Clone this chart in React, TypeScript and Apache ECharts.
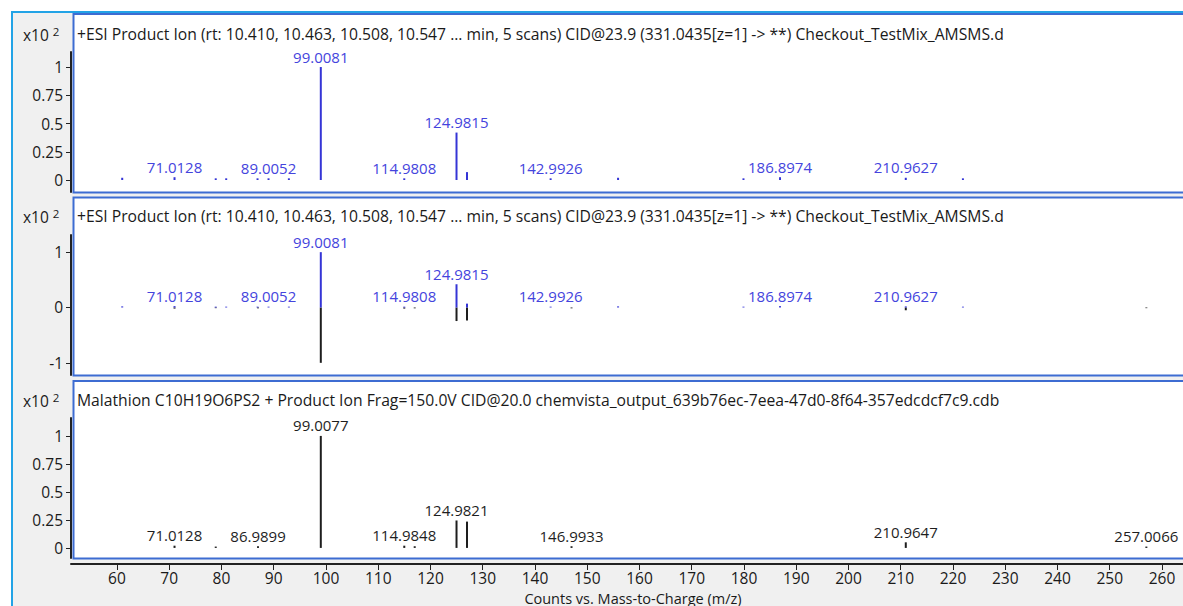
import React, { useEffect, useRef } from "react";
import * as echarts from "echarts";

// Acquired spectrum (blue)
const sampleMz = [61.0, 71.0128, 78.9, 80.9, 86.9, 89.0052, 92.9, 99.0081, 114.9808, 124.9815, 126.99, 142.9926, 155.9, 179.9, 186.8974, 210.9627, 221.9];
const sampleInt = [0.02, 0.025, 0.015, 0.015, 0.015, 0.015, 0.015, 1.0, 0.015, 0.42, 0.07, 0.015, 0.02, 0.015, 0.025, 0.02, 0.015];
const sampleLabeled = [0, 1, 0, 0, 0, 1, 0, 1, 1, 1, 0, 1, 0, 0, 1, 1, 0];

// Library spectrum (black)
const libMz = [71.0128, 78.9, 86.9899, 99.0077, 114.9848, 116.98, 124.9821, 126.99, 146.9933, 210.9647, 257.0066];
const libInt = [0.02, 0.012, 0.015, 1.0, 0.02, 0.015, 0.245, 0.235, 0.015, 0.05, 0.012];
const libLabeled = [1, 0, 1, 1, 1, 0, 1, 0, 1, 1, 1];

const xTicks = [60, 70, 80, 90, 100, 110, 120, 130, 140, 150, 160, 170, 180, 190, 200, 210, 220, 230, 240, 250, 260];
const yTicksPos = [0, 0.25, 0.5, 0.75, 1];
const yTicksMirror = [-1, 0, 1];

const title1 = "+ESI Product Ion (rt: 10.410, 10.463, 10.508, 10.547 ... min, 5 scans) CID@23.9 (331.0435[z=1] -> **) Checkout_TestMix_AMSMS.d";
const title3 = "Malathion C10H19O6PS2 + Product Ion Frag=150.0V CID@20.0 chemvista_output_639b76ec-7eea-47d0-8f64-357edcdcf7c9.cdb";
const xTitle = "Counts vs. Mass-to-Charge (m/z)";

const FONT = '"Open Sans", "Liberation Sans", Arial, sans-serif';
const FS_TITLE = 15.7;
const FS_TICK = 15.5;
const FS_PEAK = 15;
const BLUE = "#3535d6";
const BLUE_LABEL = "#4444dd";
const BLACK = "#1e1e1e";

const X_MIN = 51.2;
const X_MAX = 264.02;

function buildData(mz: number[], inten: number[], lab: number[], sign: number) {
  return mz.map((m, i) => [m, sign * inten[i], lab[i]]);
}

function stickSeries(data: any[], color: string, labelColor: string, idx: number) {
  return {
    type: "custom",
    xAxisIndex: idx,
    yAxisIndex: idx,
    data,
    encode: { x: 0, y: 1 },
    z: 5,
    renderItem: (params: any, api: any) => {
      const x = api.value(0);
      const y = api.value(1);
      const lab = api.value(2);
      const p0 = api.coord([x, 0]);
      const p1 = api.coord([x, y]);
      const children: any[] = [
        {
          type: "line",
          shape: { x1: p0[0], y1: p0[1], x2: p1[0], y2: p1[1] },
          style: { stroke: color, lineWidth: 2, lineCap: "butt" },
        },
      ];
      if (lab) {
        children.push({
          type: "text",
          x: p1[0],
          y: p1[1] - 10.5,
          style: {
            text: x.toFixed(4),
            fill: labelColor,
            font: `${FS_PEAK}px ${FONT}`,
            align: "center",
            verticalAlign: "middle",
          },
        });
      }
      return { type: "group", children };
    },
  };
}

function yAxis(idx: number, min: number, max: number, ticks: number[]) {
  return {
    type: "value",
    gridIndex: idx,
    min,
    max,
    splitLine: { show: false },
    axisLine: { show: true, lineStyle: { color: "#222", width: 2 } },
    axisTick: { show: true, length: 5, customValues: ticks, lineStyle: { color: "#222", width: 1 } },
    axisLabel: { customValues: ticks, color: "#1a1a1a", fontSize: FS_TICK, fontFamily: FONT, margin: 8 },
  };
}

function xAxis(idx: number, show: boolean) {
  return {
    type: "value",
    gridIndex: idx,
    min: X_MIN,
    max: X_MAX,
    show,
    offset: 6,
    splitLine: { show: false },
    axisLine: { show: true, onZero: false, lineStyle: { color: "#222", width: 2 } },
    axisTick: { show: true, length: 6, customValues: xTicks, lineStyle: { color: "#222", width: 1 } },
    axisLabel: { customValues: xTicks, color: "#1a1a1a", fontSize: FS_TICK, fontFamily: FONT, margin: 6, lineHeight: 15 },
  };
}

function panelRect(y: number, h: number) {
  return {
    type: "rect",
    z: -1,
    shape: { x: 73.5, y, width: 1200, height: h },
    style: { fill: "#ffffff", stroke: "#3d6cd2", lineWidth: 2 },
  };
}

function exponent(y: number) {
  return {
    type: "text",
    z: 10,
    x: 23,
    y,
    style: {
      text: "{a|x10}{b|2}",
      rich: {
        a: { font: `${FS_TICK}px ${FONT}`, fill: "#1a1a1a", verticalAlign: "bottom" },
        b: { font: `11.5px ${FONT}`, fill: "#1a1a1a", padding: [0, 0, 6, 4], verticalAlign: "bottom" },
      },
      verticalAlign: "middle",
    },
  };
}

function titleText(text: string, y: number) {
  return {
    type: "text",
    z: 10,
    x: 77,
    y,
    style: { text, font: `${FS_TITLE}px ${FONT}`, fill: "#1a1a1a", verticalAlign: "middle" },
  };
}

export default function App() {
  const ref = useRef<HTMLDivElement>(null);
  useEffect(() => {
    if (!ref.current) return;
    const chart = echarts.init(ref.current, null, { renderer: "svg" });
    chart.setOption({
      animation: false,
      backgroundColor: "#ffffff",
      grid: [
        { left: 71, top: 52, height: 140, right: 0 },
        { left: 71, top: 235, height: 140, right: 0 },
        { left: 71, top: 418, height: 140, right: 0 },
      ],
      xAxis: [xAxis(0, false), xAxis(1, false), xAxis(2, true)],
      yAxis: [
        yAxis(0, -0.106, 1.133, yTicksPos),
        yAxis(1, -1.22, 1.31, yTicksMirror),
        yAxis(2, -0.09, 1.16, yTicksPos),
      ],
      graphic: [
        {
          type: "rect",
          z: -2,
          shape: { x: 12, y: 12, width: 1200, height: 620 },
          style: { fill: "#f0f0f0", stroke: "#22a3e6", lineWidth: 2 },
        },
        panelRect(14, 178.5),
        panelRect(197.5, 178),
        panelRect(381, 177.5),
        exponent(34),
        exponent(216),
        exponent(400),
        titleText(title1, 34),
        titleText(title1, 216),
        titleText(title3, 400),
        {
          type: "text",
          z: 10,
          x: 633,
          y: 598,
          style: { text: xTitle, font: `14.5px ${FONT}`, lineHeight: 14, fill: "#1a1a1a", align: "center", verticalAlign: "middle" },
        },
      ],
      series: [
        stickSeries(buildData(sampleMz, sampleInt, sampleLabeled, 1), BLUE, BLUE_LABEL, 0),
        stickSeries(buildData(libMz, libInt, libLabeled.map(() => 0), -1), BLACK, BLACK, 1),
        stickSeries(buildData(sampleMz, sampleInt, sampleLabeled, 1), BLUE, BLUE_LABEL, 1),
        stickSeries(buildData(libMz, libInt, libLabeled, 1), BLACK, BLACK, 2),
      ],
    });
    return () => chart.dispose();
  }, []);
  return (
    <div style={{ position: "fixed", left: 0, top: 0, width: 1183, height: 606, overflow: "hidden" }}>
      <div ref={ref} style={{ width: 1183, height: 606 }} />
    </div>
  );
}
